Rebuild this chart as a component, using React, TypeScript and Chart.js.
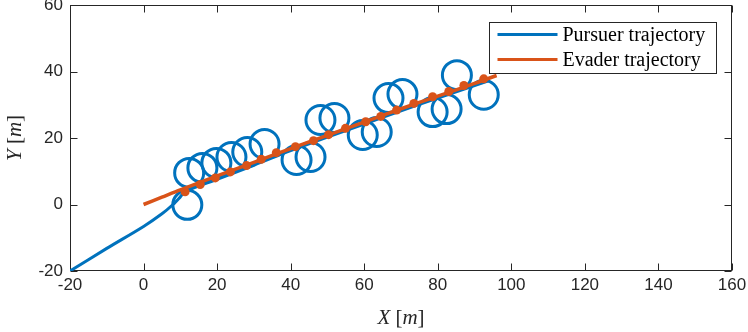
import React, { useEffect, useRef } from "react";
import { Chart, registerables } from "chart.js";

Chart.register(...registerables);

// ---- Data ----
const xTicks = [-20, 0, 20, 40, 60, 80, 100, 120, 140, 160];
const yTicks = [-20, 0, 20, 40, 60];

const legendLabels = ["Pursuer trajectory", "Evader trajectory"];

// pursuer path: approach, then running just under the evader path
const pursuerPathX = [-20, -10, 0, 5, 8, 10, 11.3, 20, 30, 40, 50, 60, 70, 80, 90, 94];
const pursuerPathY = [-20, -13.2, -6.6, -2.8, 0, 2.3, 3.9, 7.6, 11.8, 16.2, 20.3, 24.2, 28.2, 32.0, 35.8, 37.3];

// centres of the pursuer's loops
const loopCenterX = [11.9, 12.4, 16.0, 19.8, 23.9, 28.2, 32.9, 41.6, 45.4, 48.1, 51.9, 59.6, 63.4, 66.6, 70.4, 78.6, 82.4, 85.2, 92.5];
const loopCenterY = [-0.1, 9.5, 11.0, 12.5, 14.3, 15.8, 18.2, 13.4, 14.3, 25.4, 26.0, 20.9, 21.8, 32.0, 33.2, 27.8, 28.7, 38.9, 33.0];

// evader path
const evaderX = [0, 5, 10, 20, 30, 40, 50, 60, 70, 80, 90, 96];
const evaderY = [0, 2.2, 4.4, 8.6, 12.7, 16.8, 20.8, 24.8, 28.8, 32.6, 36.4, 38.8];

// evader sampled positions (dots)
const evaderMarkX = [11.3, 15.4, 19.5, 23.6, 28.0, 32.0, 36.1, 41.3, 46.2, 50.3, 54.9, 60.4, 64.5, 68.8, 73.5, 78.6, 83.0, 87.1, 92.5];
const evaderMarkY = [3.8, 6.0, 8.0, 9.8, 11.7, 13.6, 15.6, 17.4, 19.2, 21.0, 22.9, 24.9, 26.5, 28.4, 30.4, 32.4, 34.0, 35.8, 37.8];

// ---- Styles ----
const BLUE = "#0072BD";
const ORANGE = "#D95319";
const AXIS = "#262626";
const SANS = "'Liberation Sans', Arial, sans-serif";
const SERIF = "'Liberation Serif', 'Times New Roman', serif";

const zip = (xs: number[], ys: number[]) => xs.map((x, i) => ({ x, y: ys[i] }));

type Part = { t: string; it: boolean };

function drawMixed(ctx: CanvasRenderingContext2D, parts: Part[], size: number) {
  let total = 0;
  const widths = parts.map((p) => {
    ctx.font = `${p.it ? "italic " : ""}${size}px ${SERIF}`;
    const w = ctx.measureText(p.t).width;
    total += w;
    return w;
  });
  let x = -total / 2;
  parts.forEach((p, i) => {
    ctx.font = `${p.it ? "italic " : ""}${size}px ${SERIF}`;
    ctx.fillText(p.t, x, 0);
    x += widths[i];
  });
}

const framePlugin = {
  id: "matlabFrame",
  beforeDatasetsDraw(chart: any) {
    const { ctx, chartArea: a, scales } = chart;
    const L = Math.round(a.left) + 0.5;
    const R = Math.round(a.right) - 0.5;
    const T = Math.round(a.top) + 0.5;
    const B = Math.round(a.bottom) - 0.5;
    ctx.save();
    ctx.strokeStyle = AXIS;
    ctx.lineWidth = 1;
    ctx.strokeRect(L, T, R - L, B - T);
    ctx.beginPath();
    const tl = 7;
    for (const v of xTicks) {
      const px = Math.round(scales.x.getPixelForValue(v)) + 0.5;
      ctx.moveTo(px, B);
      ctx.lineTo(px, B - tl);
      ctx.moveTo(px, T);
      ctx.lineTo(px, T + tl);
    }
    for (const v of yTicks) {
      const py = Math.round(scales.y.getPixelForValue(v)) + 0.5;
      ctx.moveTo(L, py);
      ctx.lineTo(L + tl, py);
      ctx.moveTo(R, py);
      ctx.lineTo(R - tl, py);
    }
    ctx.stroke();
    ctx.restore();
  },
  afterDraw(chart: any) {
    const { ctx, chartArea: a } = chart;
    ctx.save();
    // legend box
    const bw = 227;
    const bh = 51;
    const bx = Math.round(a.right) - 16 - bw + 0.5;
    const by = Math.round(a.top) + 17 + 0.5;
    ctx.fillStyle = "#ffffff";
    ctx.fillRect(bx, by, bw, bh);
    ctx.strokeStyle = AXIS;
    ctx.lineWidth = 1;
    ctx.strokeRect(bx, by, bw, bh);
    const colors = [BLUE, ORANGE];
    legendLabels.forEach((lab, i) => {
      const yy = by + 12 + i * 25;
      ctx.strokeStyle = colors[i];
      ctx.lineWidth = 3;
      ctx.beginPath();
      ctx.moveTo(bx + 8, yy);
      ctx.lineTo(bx + 68, yy);
      ctx.stroke();
      ctx.fillStyle = "#000000";
      ctx.font = `20px ${SERIF}`;
      ctx.textAlign = "left";
      ctx.textBaseline = "middle";
      ctx.fillText(lab, bx + 73, yy + 1);
    });
    // axis titles
    ctx.fillStyle = AXIS;
    ctx.textAlign = "left";
    ctx.textBaseline = "middle";
    ctx.save();
    ctx.translate((a.left + a.right) / 2, 318);
    drawMixed(ctx, [
      { t: "X", it: true },
      { t: " [", it: false },
      { t: "m", it: true },
      { t: "]", it: false },
    ], 21);
    ctx.restore();
    ctx.save();
    ctx.translate(15, (a.top + a.bottom) / 2);
    ctx.rotate(-Math.PI / 2);
    drawMixed(ctx, [
      { t: "Y", it: true },
      { t: " [", it: false },
      { t: "m", it: true },
      { t: "]", it: false },
    ], 21);
    ctx.restore();
    ctx.restore();
  },
};

export default function App() {
  const ref = useRef<HTMLCanvasElement | null>(null);
  useEffect(() => {
    if (!ref.current) return;
    const chart = new Chart(ref.current, {
      type: "scatter",
      data: {
        datasets: [
          {
            label: "Evader samples",
            data: zip(evaderMarkX, evaderMarkY),
            showLine: false,
            pointRadius: 4.5,
            pointBackgroundColor: ORANGE,
            pointBorderColor: ORANGE,
            pointBorderWidth: 0,
          },
          {
            label: legendLabels[1],
            data: zip(evaderX, evaderY),
            showLine: true,
            borderColor: ORANGE,
            borderWidth: 3.5,
            pointRadius: 0,
            tension: 0.3,
          },
          {
            label: "Pursuer loops",
            data: zip(loopCenterX, loopCenterY),
            showLine: false,
            pointStyle: "circle",
            pointRadius: 14.5,
            pointBorderWidth: 3,
            pointBorderColor: BLUE,
            pointBackgroundColor: "rgba(0,0,0,0)",
          },
          {
            label: legendLabels[0],
            data: zip(pursuerPathX, pursuerPathY),
            showLine: true,
            borderColor: BLUE,
            borderWidth: 3,
            pointRadius: 0,
            tension: 0.3,
          },
        ],
      },
      options: {
        responsive: false,
        animation: false,
        events: [],
        layout: { autoPadding: false, padding: { top: 5, right: 16, left: 0, bottom: 0 } },
        plugins: {
          legend: { display: false },
          tooltip: { enabled: false },
        },
        scales: {
          x: {
            type: "linear",
            min: -20,
            max: 160,
            grid: { display: false, drawTicks: false },
            border: { display: false },
            afterBuildTicks: (s: any) => {
              s.ticks = xTicks.map((v) => ({ value: v }));
            },
            afterFit: (s: any) => {
              s.height = 61;
              s.paddingLeft = 0;
              s.paddingRight = 0;
            },
            ticks: {
              padding: 4,
              color: AXIS,
              font: { family: SANS, size: 17 },
              maxRotation: 0,
              autoSkip: false,
            },
          },
          y: {
            type: "linear",
            min: -20,
            max: 60,
            grid: { display: false, drawTicks: false },
            border: { display: false },
            afterBuildTicks: (s: any) => {
              s.ticks = yTicks.map((v) => ({ value: v }));
            },
            afterFit: (s: any) => {
              s.width = 70;
              s.paddingTop = 0;
              s.paddingBottom = 0;
            },
            ticks: {
              padding: 7,
              color: AXIS,
              font: { family: SANS, size: 17 },
              autoSkip: false,
            },
          },
        },
      },
      plugins: [framePlugin],
    });
    return () => chart.destroy();
  }, []);
  return (
    <div style={{ position: "fixed", left: 0, top: 0, width: 748, height: 332, background: "#fff" }}>
      <canvas ref={ref} width={748} height={332} style={{ display: "block" }} />
    </div>
  );
}
